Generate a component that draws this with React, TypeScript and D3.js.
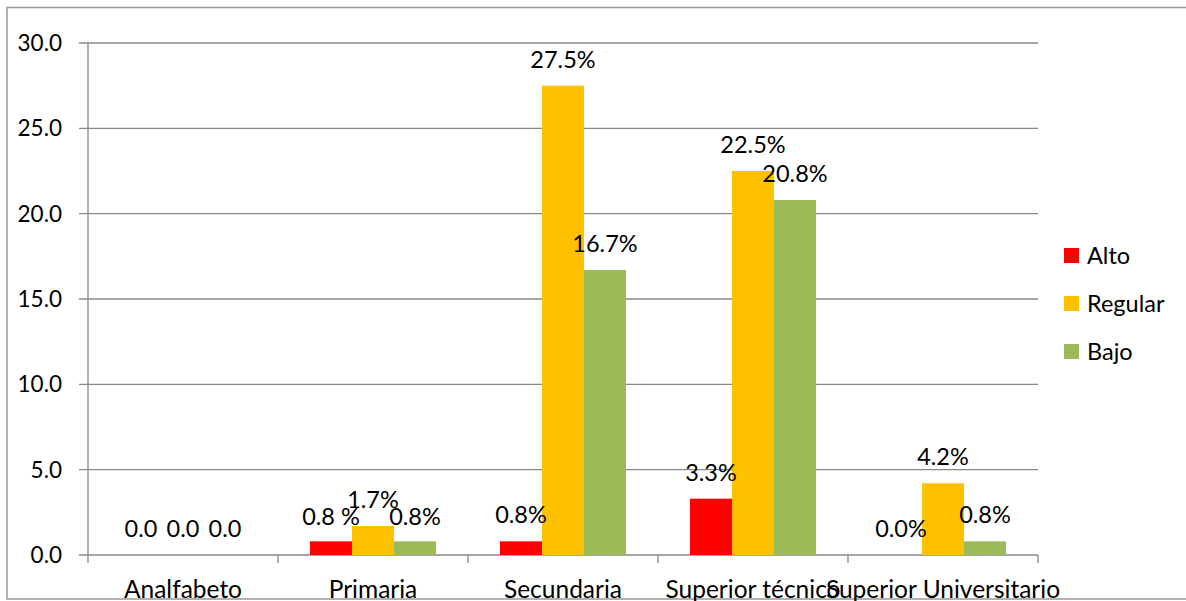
import * as d3 from 'd3';

const categories = ['Analfabeto', 'Primaria', 'Secundaria', 'Superior técnico', 'Superior Universitario'];
const seriesNames = ['Alto', 'Regular', 'Bajo'];
const alto = [0.0, 0.8, 0.8, 3.3, 0.0];
const regular = [0.0, 1.7, 27.5, 22.5, 4.2];
const bajo = [0.0, 0.8, 16.7, 20.8, 0.8];
const altoLabels = ['0.0', '0.8 %', '0.8%', '3.3%', '0.0%'];
const regularLabels = ['0.0', '1.7%', '27.5%', '22.5%', '4.2%'];
const bajoLabels = ['0.0', '0.8%', '16.7%', '20.8%', '0.8%'];
const yTicks = [0, 5, 10, 15, 20, 25, 30];
const colors = ['#ff0000', '#ffc000', '#9bbb59'];

const W = 1186, H = 601;
const margin = { top: 43, left: 88, right: 148, bottom: 46 };
const font = 'Lato, "Open Sans", sans-serif';

export default function App() {
    const width = W - margin.left - margin.right;
    const height = H - margin.top - margin.bottom;
    const x = d3.scaleBand().domain(categories).range([0, width]);
    const y = d3.scaleLinear().domain([0, 30]).range([height, 0]);
    const barW = x.bandwidth() * 42 / 190;
    const series = [alto, regular, bajo];
    const labels = [altoLabels, regularLabels, bajoLabels];
    const grid = '#888888';

    return (
        <svg width={W} height={H} style={{ position: 'absolute', left: 0, top: 0 }} fontFamily={font}>
            <rect width={W} height={H} fill="#fff" />
            <rect x={7} y={7.5} width={W + 10} height={591.5} fill="none" stroke="#999" strokeWidth={1.5} />
            <g transform={`translate(${margin.left},${margin.top})`}>
                {yTicks.map((t) => (
                    <g key={t}>
                        <line x1={-9} x2={width} y1={y(t)} y2={y(t)} stroke={grid} strokeWidth={1.3} />
                        <text x={-26} y={y(t)} dy="0.35em" textAnchor="end" fontSize={22.5} fill="#000">{t.toFixed(1)}</text>
                    </g>
                ))}
                <line x1={0} x2={0} y1={0} y2={height} stroke={grid} strokeWidth={1.3} />
                {categories.map((c) => (
                    <line key={c} x1={x(c)! + x.bandwidth()} x2={x(c)! + x.bandwidth()} y1={height} y2={height + 8} stroke={grid} strokeWidth={1.3} />
                ))}
                <line x1={0} x2={0} y1={height} y2={height + 8} stroke={grid} strokeWidth={1.3} />
                {categories.map((c) => (
                    <text key={c} x={x(c)! + x.bandwidth() / 2} y={height + 43} textAnchor="middle" fontSize={24.5} fill="#000">{c}</text>
                ))}
                {series.map((vals, s) =>
                    categories.map((c, i) => {
                        const bx = x(c)! + x.bandwidth() / 2 - 1.5 * barW + s * barW;
                        return (
                            <rect key={`${s}-${i}`} x={bx} y={y(vals[i])} width={barW} height={height - y(vals[i])} fill={colors[s]} />
                        );
                    })
                )}
                {series.map((vals, s) =>
                    categories.map((c, i) => {
                        const cx = x(c)! + x.bandwidth() / 2 - barW + s * barW;
                        let ly = y(vals[i]) - 18;
                        if (i === 1 && s !== 1) ly = y(vals[i]) - 16;
                        return (
                            <text key={`l${s}-${i}`} x={cx} y={ly} textAnchor="middle" fontSize={23.5} fill="#000">{labels[s][i]}</text>
                        );
                    })
                )}
            </g>
            {seriesNames.map((n, i) => (
                <g key={n} transform={`translate(1064,${248 + i * 48})`}>
                    <rect width={15} height={15} fill={colors[i]} />
                    <text x={23} y={7.5} dy="0.35em" fontSize={23.5} fill="#000">{n}</text>
                </g>
            ))}
        </svg>
    );
}
